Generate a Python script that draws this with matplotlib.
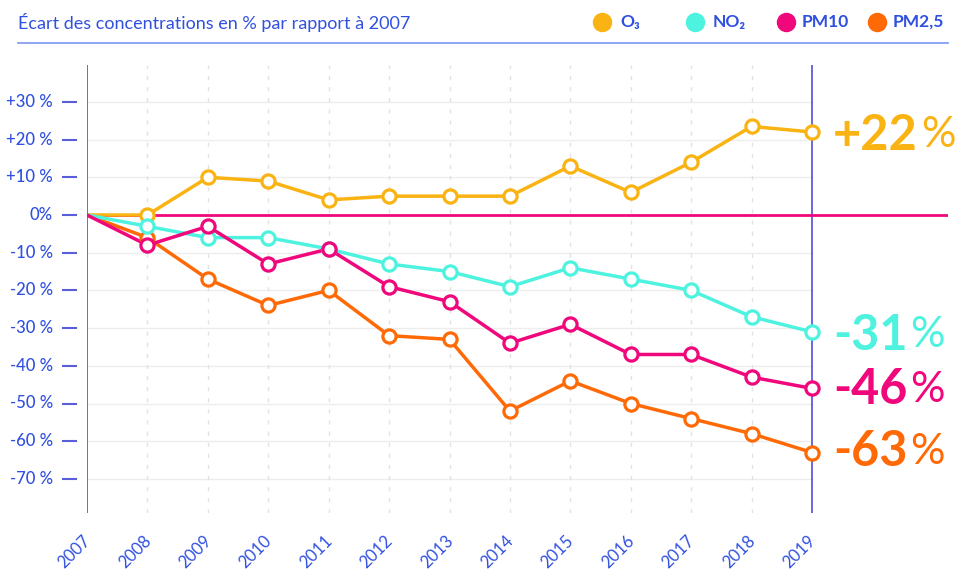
import matplotlib
matplotlib.use("Agg")
import matplotlib.pyplot as plt
import matplotlib.transforms as mtransforms

plt.rcParams['font.family'] = ['Lato', 'DejaVu Sans']

years = [2007, 2008, 2009, 2010, 2011, 2012, 2013, 2014, 2015, 2016, 2017, 2018, 2019]
o3 = [0, 0, 10, 9, 4, 5, 5, 5, 13, 6, 14, 23.5, 22]
no2 = [0, -3, -6, -6, -9, -13, -15, -19, -14, -17, -20, -27, -31]
pm10 = [0, -8, -3, -13, -9, -19, -23, -34, -29, -37, -37, -43, -46]
pm25 = [0, -6, -17, -24, -20, -32, -33, -52, -44, -50, -54, -58, -63]
series_names = ["O₃", "NO₂", "PM10", "PM2,5"]
end_labels = ["+22", "-31", "-46", "-63"]
yticks = [30, 20, 10, 0, -10, -20, -30, -40, -50, -60, -70]
ytick_labels = ["+30 %", "+20 %", "+10 %", "0%", "-10 %", "-20 %", "-30 %",
                "-40 %", "-50 %", "-60 %", "-70 %"]
title = "Écart des concentrations en % par rapport à 2007"

C_O3 = "#F9B313"
C_NO2 = "#4DF3DF"
C_PM10 = "#F0077C"
C_PM25 = "#FF6A06"
BLUE = "#3050E0"
AXBLUE = "#5A5ED8"

W, H = 959, 570
fig = plt.figure(figsize=(W / 100, H / 100), dpi=100)
fig.patch.set_facecolor("white")

# axes placement in pixels: x 87..948, y 65..513
x0, x1, ytop, ybot = 87, 948, 65, 513
ax = fig.add_axes([x0 / W, 1 - ybot / H, (x1 - x0) / W, (ybot - ytop) / H])
step = (812 - 87) / 12.0
ax.set_xlim(2007, 2007 + (x1 - x0) / step)
ppu = (479 - 102) / 100.0
ax.set_ylim((215 - ybot) / ppu, (215 - ytop) / ppu)
for s in ax.spines.values():
    s.set_visible(False)
ax.set_facecolor("none")

# grid lines
for v in yticks:
    ax.plot([2007, 2019], [v, v], color="#EDEDED", lw=1.0, zorder=0)
for yr in years[1:-1]:
    ax.axvline(yr, color="#E2E2E2", lw=1.0, ls=(0, (3, 5)), zorder=0)

# left axis and 2019 line
ax.axvline(2007, color=AXBLUE, lw=1.3, zorder=1)
ax.axvline(2019, color=AXBLUE, lw=1.3, zorder=1)
# zero line
ax.plot([2007, ax.get_xlim()[1]], [0, 0], color=C_PM10, lw=2.0, zorder=1)

# y ticks
ax.set_xticks([])
ax.set_yticks([])
blend = mtransforms.blended_transform_factory(ax.transAxes, ax.transData)
axw = (x1 - x0)
for v, lab in zip(yticks, ytick_labels):
    ax.plot([-(87 - 63) / axw, -(87 - 76) / axw], [v, v], color=AXBLUE, lw=1.5,
            transform=blend, clip_on=False)
    ax.text(-(87 - 53) / axw, v, lab, transform=blend, ha="right", va="center",
            fontsize=12, color=BLUE, fontweight="medium")

# x tick labels
for yr in years:
    ax.text(yr + 1 / step, (215 - 538) / ppu, str(yr), ha="right", va="center",
            rotation=45, rotation_mode="anchor", fontsize=12, color=BLUE,
            clip_on=False)

# series
data = [(pm25, C_PM25), (o3, C_O3), (no2, C_NO2), (pm10, C_PM10)]
for vals, c in data:
    ax.plot(years, vals, color=c, lw=2.5, zorder=3, solid_joinstyle="round")
    ax.plot(years[1:], vals[1:], ls="none", marker="o", ms=9.5, mfc="white",
            mec=c, mew=2.3, zorder=4)

# end labels
fig.canvas.draw()
renderer = fig.canvas.get_renderer()
ends = [(C_O3, end_labels[0], 135), (C_NO2, end_labels[1], 335),
        (C_PM10, end_labels[2], 390), (C_PM25, end_labels[3], 452)]
for c, lab, ypx in ends:
    t = fig.text(833 / W, 1 - ypx / H, lab, ha="left", va="center", fontsize=35,
                 fontweight="bold", color=c)
    bb = t.get_window_extent(renderer)
    fig.text((bb.x1 + 3) / W, 1 - ypx / H, "%", ha="left", va="center",
             fontsize=31, fontweight="normal", color=c)

# header
fig.text(18 / W, 1 - 22 / H, title, ha="left", va="center", fontsize=13,
         color=BLUE)
fig.add_artist(plt.Line2D([18 / W, 948 / W], [1 - 43 / H, 1 - 43 / H],
                          color="#7D96F2", lw=1.2))

# legend
leg_x = [602, 695, 786, 877]
txt_x = [620, 713, 802, 893]
cols = [C_O3, C_NO2, C_PM10, C_PM25]
for lx, tx, c, name in zip(leg_x, txt_x, cols, series_names):
    fig.add_artist(plt.Line2D([lx / W], [1 - 22 / H], marker="o", ms=13,
                              color=c, ls="none"))
    fig.text(tx / W, 1 - 22 / H, name, ha="left", va="center",
             fontsize=12.5, color=BLUE, fontweight="bold",
             family=["Lato", "DejaVu Sans"])

fig.savefig("out.png", dpi=100, facecolor="white")
